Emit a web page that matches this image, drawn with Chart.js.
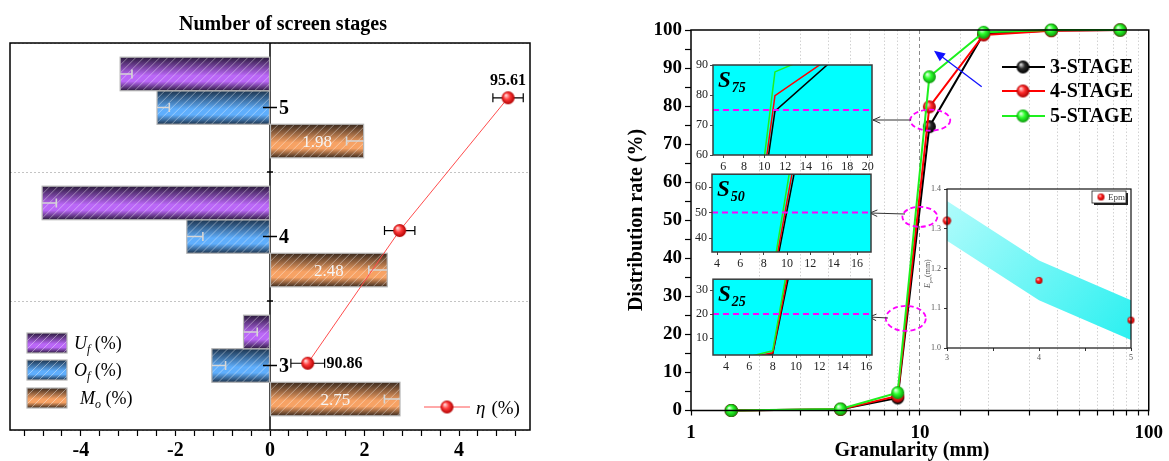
<!DOCTYPE html>
<html lang="en">
<head>
<meta charset="utf-8">
<title>Screen stages and grading curves</title>
<script src="https://cdn.jsdelivr.net/npm/chart.js@4.4.1/dist/chart.umd.min.js"></script>
<style>
  html, body { margin: 0; padding: 0; background: #fff; }
  #figure { position: relative; width: 1169px; height: 461px; overflow: hidden; background: #fff; }
  #figure canvas { position: absolute; }
</style>
</head>
<body>
<div id="figure">
  <canvas id="stageChart" width="545" height="461" style="left:0px;top:0px"></canvas>
  <canvas id="etaChart" width="545" height="461" style="left:0px;top:0px"></canvas>
  <canvas id="gradingChart" width="609" height="461" style="left:560px;top:0px"></canvas>
  <canvas id="zoom75" width="195" height="120" style="left:688px;top:55px"></canvas>
  <canvas id="zoom50" width="195" height="105" style="left:688px;top:165px"></canvas>
  <canvas id="zoom25" width="195" height="105" style="left:688px;top:270px"></canvas>
  <canvas id="epmChart" width="225" height="190" style="left:915px;top:180px"></canvas>
</div>
<script>
const SERIF = "'Liberation Serif', 'Times New Roman', serif";
Chart.defaults.font.family = SERIF;
Chart.defaults.color = '#000';

// ---------- screening results per number of stages ----------
const stages = ['5', '4', '3'];
const stageNo = [5, 4, 3];
const underflow = [-3.17, -4.82, -0.56];      // U_f (%)
const underflowErr = [0.25, 0.30, 0.29];
const overflow = [-2.39, -1.76, -1.23];       // O_f (%)
const overflowErr = [0.26, 0.34, 0.29];
const misplaced = [1.98, 2.48, 2.75];         // M_o (%)
const misplacedErr = [0.36, 0.39, 0.33];
const efficiency = [95.61, 93.04, 90.86];     // eta (%)
const efficiencyErr = [0.36, 0.36, 0.40];

// ---------- grading curves ----------
const grainSize = [1.5, 4.5, 8, 11, 19, 37.5, 75];   // mm
const passing3 = [0, 0.3, 3.3, 74.6, 99.0, 99.9, 100];
const passing4 = [0, 0.3, 3.8, 79.8, 98.7, 99.8, 100];
const passing5 = [0, 0.4, 4.7, 87.7, 99.4, 100, 100];
const gradingNames = ['3-STAGE', '4-STAGE', '5-STAGE'];

// ---------- probable error Epm ----------
const epmStage = [3, 4, 5];
const epmValue = [1.32, 1.17, 1.07];
const epmHigh = [1.37, 1.22, 1.12];
const epmLow = [1.27, 1.12, 1.02];

// ---------- helpers ----------
function fitArea(area, W, H) {
  return {
    padding: { left: 0, top: area.top, right: W - area.right, bottom: 0 },
    fitX(scale) { scale.height = H - area.bottom; },
    fitY(scale) { scale.width = area.left; }
  };
}

function sphere(r, light, mid, dark) {
  const c = document.createElement('canvas');
  const s = Math.ceil(r * 2) + 2;
  c.width = c.height = s;
  const g = c.getContext('2d');
  const cx = s / 2, cy = s / 2;
  const grad = g.createRadialGradient(cx - r * 0.35, cy - r * 0.4, r * 0.08, cx, cy, r);
  grad.addColorStop(0, light);
  grad.addColorStop(0.45, mid);
  grad.addColorStop(1, dark);
  g.fillStyle = grad;
  g.beginPath(); g.arc(cx, cy, r, 0, Math.PI * 2); g.fill();
  return c;
}

const ball = {
  black: sphere(6.5, '#d8d8d8', '#2a2a2a', '#000000'),
  red: sphere(6.5, '#ffd6d6', '#ff2c2c', '#a60000'),
  green: sphere(6.5, '#e0ffe0', '#2cff2c', '#0b960b'),
  eta: sphere(6.5, '#ffd6d6', '#ff3a3a', '#b00000'),
  epmBig: sphere(4.2, '#ffd0d0', '#ff1a1a', '#b00000'),
  epm: sphere(3.5, '#ffd0d0', '#ff1a1a', '#b00000')
};

function richText(ctx, x, y, runs) {
  let cx = x;
  runs.forEach(r => {
    ctx.font = r.font;
    ctx.fillText(r.text, cx, y + (r.dy || 0));
    cx += ctx.measureText(r.text).width + (r.gap || 0);
  });
}

function paintBar(ctx, l, t, w, h, look) {
  ctx.save();
  const g = ctx.createLinearGradient(0, t, 0, t + h);
  g.addColorStop(0, look.dark);
  g.addColorStop(0.55, look.light);
  g.addColorStop(0.72, look.light);
  g.addColorStop(1, look.dark);
  ctx.fillStyle = g;
  ctx.fillRect(l, t, w, h);
  ctx.beginPath(); ctx.rect(l, t, w, h); ctx.clip();
  ctx.strokeStyle = 'rgba(255,255,255,0.5)';
  ctx.lineWidth = 0.8;
  ctx.beginPath();
  for (let k = -h; k < w + h; k += 8) { ctx.moveTo(l + k, t + h); ctx.lineTo(l + k + h, t); }
  ctx.stroke();
  ctx.restore();
  ctx.save();
  ctx.strokeStyle = '#b5b5b5'; ctx.lineWidth = 1.2;
  ctx.strokeRect(l, t, w, h);
  ctx.restore();
}

function arrowLine(ctx, x1, y1, x2, y2, color, width, head, filled) {
  const ang = Math.atan2(y2 - y1, x2 - x1);
  ctx.save();
  ctx.strokeStyle = color; ctx.fillStyle = color; ctx.lineWidth = width;
  ctx.beginPath(); ctx.moveTo(x1, y1);
  ctx.lineTo(filled ? x2 - Math.cos(ang) * head * 0.8 : x2, filled ? y2 - Math.sin(ang) * head * 0.8 : y2);
  ctx.stroke();
  const a1 = ang + Math.PI - 0.42, a2 = ang + Math.PI + 0.42;
  ctx.beginPath();
  ctx.moveTo(x2 + Math.cos(a1) * head, y2 + Math.sin(a1) * head);
  ctx.lineTo(x2, y2);
  ctx.lineTo(x2 + Math.cos(a2) * head, y2 + Math.sin(a2) * head);
  if (filled) { ctx.closePath(); ctx.fill(); } else { ctx.stroke(); }
  ctx.restore();
}

const noInteraction = { responsive: false, animation: false, events: [] };
const quietPlugins = { legend: { display: false }, tooltip: { enabled: false } };

// ================= left: screen stages (bars) =================
const barLooks = [
  { dark: '#2b1a3d', light: '#ba67f7' },
  { dark: '#1c334d', light: '#5faefc' },
  { dark: '#3b2a1e', light: '#f7a264' }
];
const barSeries = [
  { values: underflow, err: underflowErr, look: barLooks[0] },
  { values: overflow, err: overflowErr, look: barLooks[1] },
  { values: misplaced, err: misplacedErr, look: barLooks[2] }
];

const stageArea = { left: 10, top: 43, right: 530, bottom: 430 };
const stageFit = fitArea(stageArea, 545, 461);

const stageDecor = {
  id: 'stageDecor',
  beforeDatasetsDraw(chart) {
    const { ctx, chartArea: a, scales: { x } } = chart;
    const x0 = x.getPixelForValue(0);
    ctx.save();
    ctx.strokeStyle = '#000'; ctx.lineWidth = 1.5;
    ctx.beginPath(); ctx.moveTo(x0, a.top); ctx.lineTo(x0, a.bottom); ctx.stroke();
    ctx.restore();
  },
  afterDatasetDraw(chart, args) {
    const { ctx, scales: { x } } = chart;
    const series = barSeries[args.index];
    args.meta.data.forEach((el, i) => {
      const p = el.getProps(['x', 'y', 'base', 'height'], true);
      const l = Math.min(p.x, p.base), w = Math.abs(p.x - p.base), t = p.y - p.height / 2;
      paintBar(ctx, l, t, w, p.height, series.look);
      // error whisker, drawn from the bar end back towards zero
      const v = series.values[i];
      const inner = x.getPixelForValue(v < 0 ? v + series.err[i] : v - series.err[i]);
      ctx.save();
      ctx.strokeStyle = '#d6d6d6'; ctx.lineWidth = 1.6;
      ctx.beginPath();
      ctx.moveTo(p.x, p.y); ctx.lineTo(inner, p.y);
      ctx.moveTo(inner, p.y - 4.5); ctx.lineTo(inner, p.y + 4.5);
      ctx.stroke();
      if (args.index === 2) {
        ctx.fillStyle = '#f4f4f4';
        ctx.font = '17px ' + SERIF;
        ctx.textAlign = 'center'; ctx.textBaseline = 'middle';
        ctx.fillText(v.toFixed(2), (p.x + p.base) / 2, p.y + 1);
      }
      ctx.restore();
    });
  },
  afterDatasetsDraw(chart) {
    const { ctx, scales: { x, y } } = chart;
    const x0 = x.getPixelForValue(0);
    ctx.save();
    ctx.strokeStyle = '#000'; ctx.lineWidth = 1.5;
    ctx.fillStyle = '#000';
    ctx.font = 'bold 20px ' + SERIF;
    ctx.textAlign = 'left'; ctx.textBaseline = 'middle';
    stages.forEach((s, i) => {
      const yc = y.getPixelForValue(i);
      ctx.beginPath(); ctx.moveTo(x0 - 7, yc); ctx.lineTo(x0 + 7, yc); ctx.stroke();
      if (i < stages.length - 1) {
        const yb = (yc + y.getPixelForValue(i + 1)) / 2;
        ctx.beginPath(); ctx.moveTo(x0 - 3, yb); ctx.lineTo(x0 + 3, yb); ctx.stroke();
      }
      ctx.fillText(s, x0 + 9, yc + 1);
    });
    ctx.restore();
  },
  afterDraw(chart) {
    const { ctx, chartArea: a } = chart;
    ctx.save();
    ctx.strokeStyle = '#000'; ctx.lineWidth = 1.5;
    ctx.strokeRect(a.left, a.top, a.width, a.height);
    ctx.fillStyle = '#000';
    ctx.font = 'bold 20px ' + SERIF;
    ctx.textAlign = 'center'; ctx.textBaseline = 'middle';
    ctx.fillText('Number of screen stages', 283, 25);

    // legend for the three bar series
    const rows = [
      { look: barLooks[0], runs: [['U', 'italic 18px'], ['f', 'italic 12px', 4], [' (%)', '18px']], y: 333, tx: 74 },
      { look: barLooks[1], runs: [['O', 'italic 18px'], ['f', 'italic 12px', 4], [' (%)', '18px']], y: 360, tx: 74 },
      { look: barLooks[2], runs: [['M', 'italic 18px'], ['o', 'italic 12px', 4], [' (%)', '18px']], y: 388, tx: 80 }
    ];
    rows.forEach(r => {
      paintBar(ctx, 27, r.y, 40, 20, r.look);
      ctx.fillStyle = '#000'; ctx.textAlign = 'left'; ctx.textBaseline = 'alphabetic';
      richText(ctx, r.tx, r.y + 16, r.runs.map(q => ({ text: q[0], font: q[1] + ' ' + SERIF, dy: q[2] || 0 })));
    });
    ctx.restore();
  }
};

new Chart(document.getElementById('stageChart'), {
  type: 'bar',
  data: {
    labels: stages,
    datasets: barSeries.map(s => ({
      data: s.values,
      backgroundColor: 'rgba(0,0,0,0)', borderWidth: 0,
      categoryPercentage: 0.78, barPercentage: 1
    }))
  },
  options: {
    ...noInteraction,
    indexAxis: 'y',
    layout: { padding: stageFit.padding },
    plugins: quietPlugins,
    scales: {
      x: {
        type: 'linear', position: 'bottom', min: -5.5, max: 5.5, afterFit: stageFit.fitX,
        ticks: {
          stepSize: 0.4, includeBounds: false, autoSkip: false, maxRotation: 0, padding: 3,
          color: '#000', font: { size: 20, weight: 'bold' },
          callback: v => (Math.abs(v % 2) < 1e-9 ? String(Math.round(v)) : '')
        },
        grid: { drawOnChartArea: false, tickLength: 6, tickColor: '#000', tickWidth: 1.2 },
        border: { display: false }
      },
      y: {
        type: 'category', position: 'left', offset: true, afterFit: stageFit.fitY,
        ticks: { display: false },
        grid: { offset: true, drawTicks: false, color: '#c4c4c4', lineWidth: 1 },
        border: { display: false, dash: [2, 2] }
      }
    }
  },
  plugins: [stageDecor]
});

// ================= left: separation efficiency overlay =================
const etaDecor = {
  id: 'etaDecor',
  beforeDatasetsDraw(chart) {
    const { ctx, scales: { x } } = chart;
    const pts = chart.getDatasetMeta(0).data;
    ctx.save();
    ctx.strokeStyle = '#000'; ctx.lineWidth = 1.2;
    pts.forEach((pt, i) => {
      const a = x.getPixelForValue(efficiency[i] - efficiencyErr[i]);
      const b = x.getPixelForValue(efficiency[i] + efficiencyErr[i]);
      ctx.beginPath();
      ctx.moveTo(a, pt.y); ctx.lineTo(b, pt.y);
      ctx.moveTo(a, pt.y - 4.5); ctx.lineTo(a, pt.y + 4.5);
      ctx.moveTo(b, pt.y - 4.5); ctx.lineTo(b, pt.y + 4.5);
      ctx.stroke();
    });
    ctx.restore();
  },
  afterDatasetsDraw(chart) {
    const { ctx, scales: { x } } = chart;
    const pts = chart.getDatasetMeta(0).data;
    ctx.save();
    ctx.fillStyle = '#000';
    ctx.font = 'bold 16px ' + SERIF;
    ctx.textBaseline = 'middle';
    ctx.textAlign = 'center';
    ctx.fillText(efficiency[0].toFixed(2), pts[0].x, pts[0].y - 17);
    ctx.textAlign = 'left';
    const last = efficiency.length - 1;
    ctx.fillText(efficiency[last].toFixed(2),
      x.getPixelForValue(efficiency[last] + efficiencyErr[last]) + 2, pts[last].y + 1);

    // legend entry
    ctx.strokeStyle = '#ff5252'; ctx.lineWidth = 1;
    ctx.beginPath(); ctx.moveTo(424, 407); ctx.lineTo(470, 407); ctx.stroke();
    ctx.drawImage(ball.eta, 447 - ball.eta.width / 2, 407 - ball.eta.height / 2);
    ctx.textBaseline = 'alphabetic';
    richText(ctx, 476, 414, [
      { text: '\u03B7', font: 'italic 19px ' + SERIF, gap: 6 },
      { text: '(%)', font: '19px ' + SERIF }
    ]);
    ctx.restore();
  }
};

new Chart(document.getElementById('etaChart'), {
  type: 'line',
  data: {
    datasets: [{
      data: efficiency.map((v, i) => ({ x: v, y: stageNo[i] })),
      borderColor: '#ff4c4c', borderWidth: 1, tension: 0,
      pointStyle: ball.eta, pointRadius: 6.5, clip: false
    }]
  },
  options: {
    ...noInteraction,
    layout: { padding: { left: stageArea.left, top: stageArea.top, right: 545 - stageArea.right, bottom: 461 - stageArea.bottom } },
    plugins: quietPlugins,
    scales: {
      x: { type: 'linear', display: false, min: 83.80, max: 96.13 },
      y: { type: 'linear', display: false, min: 2.497, max: 5.413 }
    }
  },
  plugins: [etaDecor]
});

// ================= right: grading curves =================
const gradingSeries = [
  { name: gradingNames[0], values: passing3, line: '#000000', ball: ball.black, order: 2 },
  { name: gradingNames[1], values: passing4, line: '#ff0000', ball: ball.red, order: 1 },
  { name: gradingNames[2], values: passing5, line: '#1ef01e', ball: ball.green, order: 0 }
];
const toPoints = vals => grainSize.map((x, i) => ({ x, y: vals[i] }));

const gradingArea = { left: 131, top: 30, right: 594, bottom: 410.5 };
const gradingFit = fitArea(gradingArea, 609, 461);

// dashed rings around the S25 / S50 / S75 crossings (data coordinates)
const rings = [
  { x: 11.1, y: 76.3, rx: 20, ry: 10.5 },
  { x: 10.0, y: 50.9, rx: 17.5, ry: 10 },
  { x: 8.68, y: 24.2, rx: 20, ry: 12.5 }
];

const gradingDecor = {
  id: 'gradingDecor',
  afterDraw(chart) {
    const { ctx, chartArea: a, scales: { x, y } } = chart;
    ctx.save();
    ctx.strokeStyle = '#000'; ctx.lineWidth = 1.5;
    ctx.strokeRect(a.left, a.top, a.width, a.height);

    // axis titles
    ctx.fillStyle = '#000';
    ctx.font = 'bold 20px ' + SERIF;
    ctx.textAlign = 'center'; ctx.textBaseline = 'middle';
    ctx.fillText('Granularity (mm)', 352, 451);
    ctx.save();
    ctx.translate(77, 220); ctx.rotate(-Math.PI / 2);
    ctx.fillText('Distribution rate (%)', 0, 0);
    ctx.restore();

    // rings and pointers to the zoom panels
    ctx.strokeStyle = '#ff00ff'; ctx.lineWidth = 1.8; ctx.setLineDash([5, 3]);
    rings.forEach(r => {
      ctx.beginPath();
      ctx.ellipse(x.getPixelForValue(r.x), y.getPixelForValue(r.y), r.rx, r.ry, 0, 0, Math.PI * 2);
      ctx.stroke();
    });
    ctx.setLineDash([]);
    arrowLine(ctx, 351, 120, 313, 120, '#333', 1, 8, false);
    arrowLine(ctx, 345, 214, 310, 213, '#333', 1, 8, false);
    arrowLine(ctx, 328, 318, 309, 317, '#333', 1, 8, false);
    arrowLine(ctx, 421.7, 86.7, 374, 50.7, '#1010ff', 1.3, 12, true);

    // legend
    gradingSeries.forEach((s, i) => {
      const ly = [67, 91, 116][i];
      ctx.strokeStyle = s.line; ctx.lineWidth = 2;
      ctx.beginPath(); ctx.moveTo(442, ly); ctx.lineTo(485, ly); ctx.stroke();
      ctx.drawImage(s.ball, 463 - s.ball.width / 2, ly - s.ball.height / 2);
      ctx.fillStyle = '#000';
      ctx.font = 'bold 20px ' + SERIF;
      ctx.textAlign = 'left'; ctx.textBaseline = 'middle';
      ctx.fillText(s.name, 490, ly + 1);
    });
    ctx.restore();
  }
};

new Chart(document.getElementById('gradingChart'), {
  type: 'line',
  data: {
    datasets: gradingSeries.map(s => ({
      label: s.name, data: toPoints(s.values),
      borderColor: s.line, borderWidth: 2, tension: 0,
      pointStyle: s.ball, pointRadius: 6.5, order: s.order, clip: false
    }))
  },
  options: {
    ...noInteraction,
    layout: { padding: gradingFit.padding },
    plugins: quietPlugins,
    scales: {
      x: {
        type: 'logarithmic', min: 1, max: 100, afterFit: gradingFit.fitX,
        ticks: {
          autoSkip: false, maxRotation: 0, padding: 6, color: '#000',
          font: { size: 19, weight: 'bold' },
          callback: v => ([1, 10, 100].includes(v) ? String(v) : '')
        },
        grid: {
          drawOnChartArea: true, tickLength: 5, tickColor: '#000', tickWidth: 1.2, lineWidth: 1,
          color: c => {
            const v = c.tick ? c.tick.value : 0;
            if (v === 1 || v === 100) return 'rgba(0,0,0,0)';
            return v === 10 ? '#8c8c8c' : '#d2d2d2';
          }
        },
        border: { display: false, dash: c => (c.tick && c.tick.value === 10 ? [4, 3] : [1.5, 2]) }
      },
      y: {
        type: 'linear', min: 0, max: 100, afterFit: gradingFit.fitY,
        ticks: {
          stepSize: 5, autoSkip: false, padding: 3, color: '#000',
          font: { size: 19, weight: 'bold' },
          callback: v => (v % 10 === 0 ? String(v) : '')
        },
        grid: { drawOnChartArea: false, tickLength: 6, tickColor: '#000', tickWidth: 1.2 },
        border: { display: false }
      }
    }
  },
  plugins: [gradingDecor]
});

// ================= zoom panels S75 / S50 / S25 =================
function zoomPanel(id, W, H, area, xr, yr, level, sub) {
  const fit = fitArea(area, W, H);
  const decor = {
    id: 'panelDecor',
    beforeDatasetsDraw(chart) {
      const { ctx, chartArea: a } = chart;
      ctx.save(); ctx.fillStyle = '#00ffff';
      ctx.fillRect(a.left, a.top, a.width, a.height);
      ctx.restore();
    },
    afterDatasetsDraw(chart) {
      const { ctx, chartArea: a, scales: { y } } = chart;
      const yy = y.getPixelForValue(level);
      ctx.save();
      ctx.strokeStyle = '#ff00ff'; ctx.lineWidth = 2; ctx.setLineDash([6, 4]);
      ctx.beginPath(); ctx.moveTo(a.left, yy); ctx.lineTo(a.right, yy); ctx.stroke();
      ctx.restore();
    },
    afterDraw(chart) {
      const { ctx, chartArea: a } = chart;
      ctx.save();
      ctx.strokeStyle = '#3a3a3a'; ctx.lineWidth = 1.5;
      ctx.strokeRect(a.left, a.top, a.width, a.height);
      ctx.fillStyle = '#000'; ctx.textAlign = 'left'; ctx.textBaseline = 'alphabetic';
      richText(ctx, a.left + 5, a.top + 22, [
        { text: 'S', font: 'bold italic 23px ' + SERIF, gap: 1 },
        { text: sub, font: 'bold italic 14px ' + SERIF, dy: 5 }
      ]);
      ctx.restore();
    }
  };
  return new Chart(document.getElementById(id), {
    type: 'line',
    data: {
      datasets: gradingSeries.map(s => ({
        data: toPoints(s.values), borderColor: s.line, borderWidth: 1.5,
        pointRadius: 0, tension: 0, order: s.order
      }))
    },
    options: {
      ...noInteraction,
      layout: { padding: fit.padding },
      plugins: quietPlugins,
      scales: {
        x: {
          type: 'linear', min: xr[0], max: xr[1], afterFit: fit.fitX,
          ticks: { stepSize: 2, includeBounds: false, autoSkip: false, maxRotation: 0, padding: 2, color: '#222', font: { size: 12 } },
          grid: { drawOnChartArea: false, tickLength: 3, tickColor: '#444' },
          border: { display: false }
        },
        y: {
          type: 'linear', min: yr[0], max: yr[1], afterFit: fit.fitY,
          ticks: { stepSize: 10, includeBounds: false, autoSkip: false, padding: 2, color: '#222', font: { size: 12 } },
          grid: { drawOnChartArea: false, tickLength: 3, tickColor: '#444' },
          border: { display: false }
        }
      }
    },
    plugins: [decor]
  });
}

zoomPanel('zoom75', 195, 120, { left: 25, top: 10, right: 184, bottom: 100 }, [5, 20.4], [60, 90], 75, '75');
zoomPanel('zoom50', 195, 105, { left: 24, top: 9, right: 183, bottom: 87 }, [3.57, 17.2], [34.5, 65.1], 50, '50');
zoomPanel('zoom25', 195, 105, { left: 25, top: 9, right: 184, bottom: 85 }, [2.89, 16.5], [2.9, 34.6], 20, '25');

// ================= Epm panel =================
const epmArea = { left: 32, top: 9, right: 216, bottom: 168 };
const epmFit = fitArea(epmArea, 225, 190);

const epmDecor = {
  id: 'epmDecor',
  afterDraw(chart) {
    const { ctx, chartArea: a } = chart;
    ctx.save();
    ctx.strokeStyle = '#111'; ctx.lineWidth = 1.2;
    ctx.strokeRect(a.left, a.top, a.width, a.height);
    // legend box
    ctx.fillStyle = '#222'; ctx.fillRect(179, 13, 34, 12);
    ctx.fillStyle = '#fff'; ctx.fillRect(177, 11, 34, 12);
    ctx.strokeStyle = '#222'; ctx.lineWidth = 0.8; ctx.strokeRect(177, 11, 34, 12);
    ctx.drawImage(ball.epm, 186 - ball.epm.width / 2, 17 - ball.epm.height / 2);
    ctx.fillStyle = '#444'; ctx.font = '9px ' + SERIF;
    ctx.textAlign = 'left'; ctx.textBaseline = 'middle';
    ctx.fillText('Epm', 193, 17.5);
    // axis title
    ctx.translate(12, 88); ctx.rotate(-Math.PI / 2);
    ctx.fillStyle = '#555'; ctx.textBaseline = 'alphabetic';
    richText(ctx, -20, 3, [
      { text: 'E', font: 'italic 8px ' + SERIF },
      { text: 'pm', font: 'italic 5px ' + SERIF, dy: 2 },
      { text: '(mm)', font: '8px ' + SERIF }
    ]);
    ctx.restore();
  }
};

new Chart(document.getElementById('epmChart'), {
  type: 'line',
  data: {
    datasets: [
      { data: epmStage.map((x, i) => ({ x, y: epmHigh[i] })), borderColor: 'rgba(0,0,0,0)', borderWidth: 0, pointRadius: 0, fill: false, tension: 0, order: 2 },
      {
        data: epmStage.map((x, i) => ({ x, y: epmLow[i] })), borderColor: 'rgba(0,0,0,0)', borderWidth: 0, pointRadius: 0, tension: 0, order: 1,
        fill: '-1',
        backgroundColor: c => {
          const a = c.chart.chartArea;
          if (!a) return '#7ff';
          const g = c.chart.ctx.createLinearGradient(a.left, a.top, a.right, a.bottom);
          g.addColorStop(0, '#b4fcfc');
          g.addColorStop(1, '#28f0f0');
          return g;
        }
      },
      {
        data: epmStage.map((x, i) => ({ x, y: epmValue[i] })), showLine: false, order: 0,
        borderColor: '#ff1a1a', backgroundColor: '#ff1a1a',
        pointStyle: c => (c.dataIndex === 0 ? ball.epmBig : ball.epm), pointRadius: 4, clip: false
      }
    ]
  },
  options: {
    ...noInteraction,
    layout: { padding: epmFit.padding },
    plugins: quietPlugins,
    scales: {
      x: {
        type: 'linear', min: 3, max: 5, afterFit: epmFit.fitX,
        ticks: { stepSize: 0.5, autoSkip: false, maxRotation: 0, padding: 2, color: '#555', font: { size: 8 },
          callback: v => (Number.isInteger(v) ? String(v) : '') },
        grid: { drawOnChartArea: false, tickLength: 3, tickColor: '#333' },
        border: { display: false }
      },
      y: {
        type: 'linear', min: 1.0, max: 1.4, afterFit: epmFit.fitY,
        ticks: { stepSize: 0.1, autoSkip: false, padding: 3, color: '#555', font: { size: 8 },
          callback: v => v.toFixed(1) },
        grid: { drawOnChartArea: false, tickLength: 3, tickColor: '#333' },
        border: { display: false }
      }
    }
  },
  plugins: [epmDecor]
});
</script>
</body>
</html>
